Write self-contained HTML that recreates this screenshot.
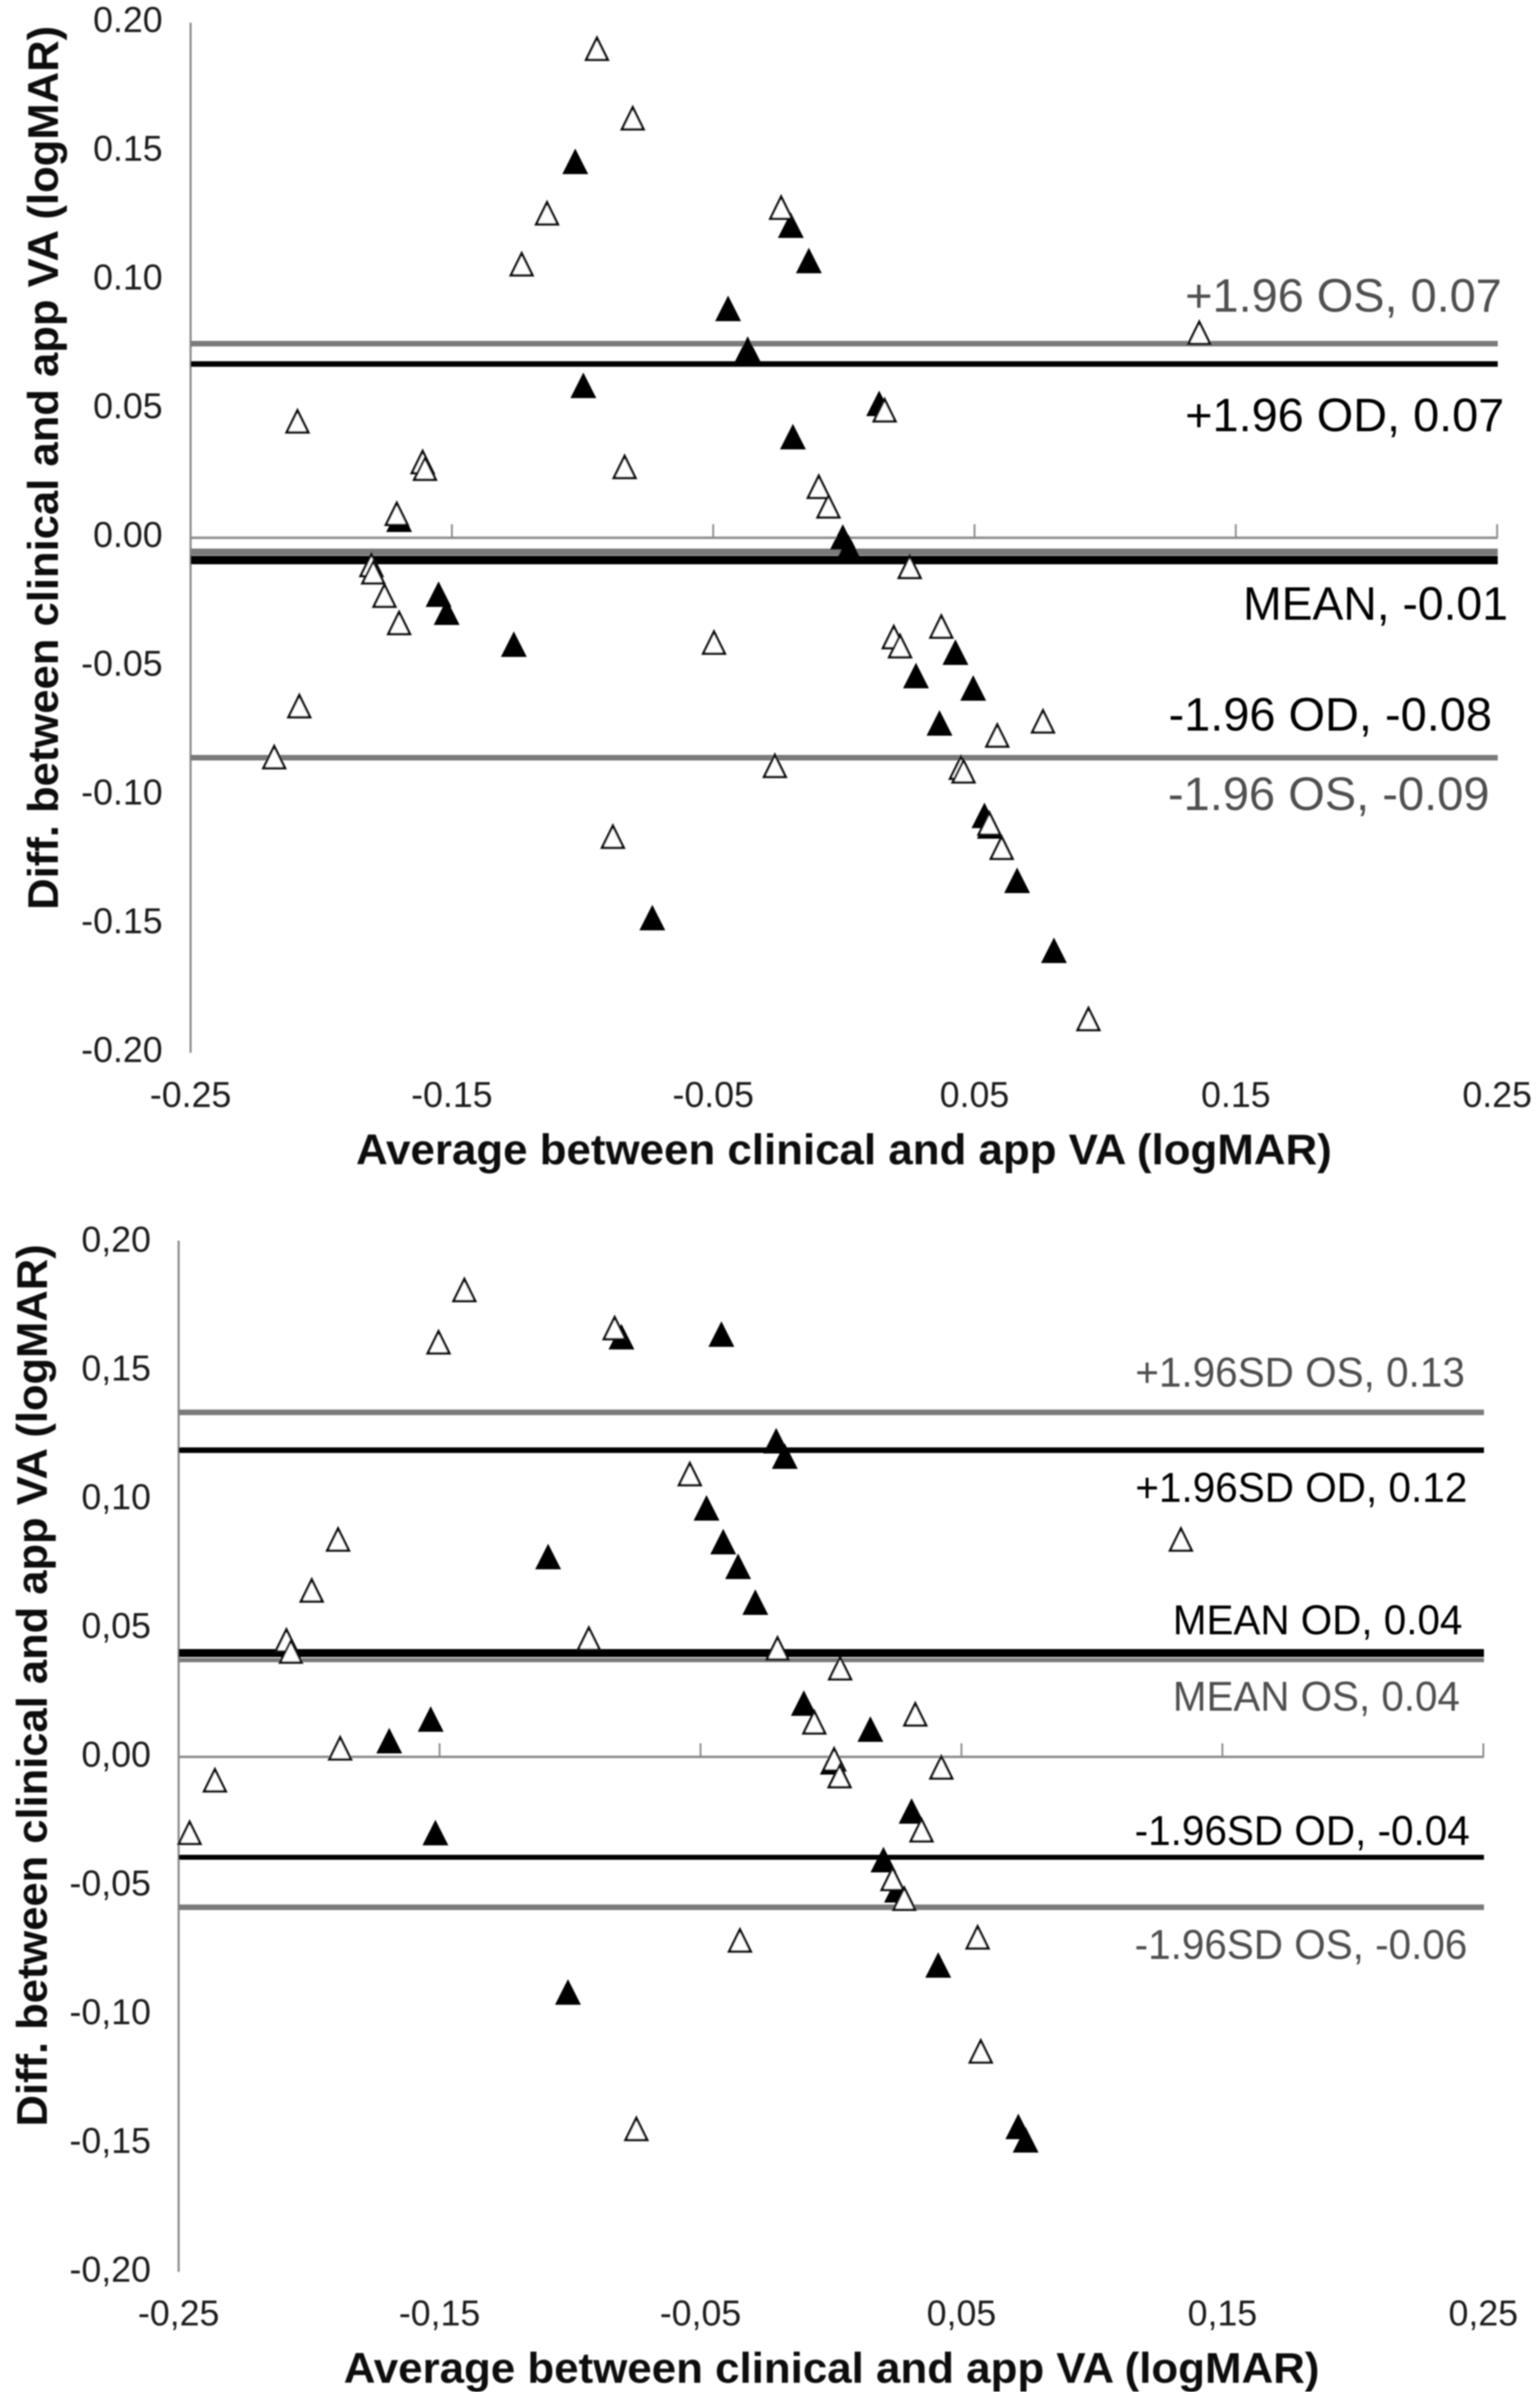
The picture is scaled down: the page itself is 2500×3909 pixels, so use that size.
<!DOCTYPE html>
<html lang="en">
<head>
<meta charset="utf-8">
<title>Bland-Altman plots</title>
<style>
html,body{margin:0;padding:0;background:#fff;}
svg{display:block;}
text{font-family:"Liberation Sans",sans-serif;}
.tick{font-size:58px;fill:#1f1f1f;}
.title{font-size:70px;font-weight:bold;fill:#0a0a0a;}
.note1{font-size:76px;}
.note2{font-size:68px;}
.od{fill:#000;}
.os{fill:#505050;}
</style>
</head>
<body>
<svg id="figure" xmlns="http://www.w3.org/2000/svg" width="2500" height="3909" viewBox="0 0 2500 3909">
<defs><filter id="soft" x="0" y="0" width="100%" height="100%"><feGaussianBlur stdDeviation="1"/></filter></defs>
<rect width="2500" height="3909" fill="#fff"/>
<g filter="url(#soft)">
<g id="chart1"></g>
<g id="chart2"></g>

<text class="title" x="578" y="1890" textLength="1584" lengthAdjust="spacingAndGlyphs">Average between clinical and app VA (logMAR)</text>
<text class="title" transform="translate(94,1477) rotate(-90)" textLength="1435" lengthAdjust="spacingAndGlyphs">Diff. between clinical and app VA (logMAR)</text>
<text class="title" x="558" y="3868" textLength="1584" lengthAdjust="spacingAndGlyphs">Average between clinical and app VA (logMAR)</text>
<text class="title" transform="translate(76,3452) rotate(-90)" textLength="1432" lengthAdjust="spacingAndGlyphs">Diff. between clinical and app VA (logMAR)</text>

<text class="note1 os" x="1924" y="506" textLength="514" lengthAdjust="spacingAndGlyphs">+1.96 OS, 0.07</text>
<text class="note1 od" x="1924" y="700" textLength="518" lengthAdjust="spacingAndGlyphs">+1.96 OD, 0.07</text>
<text class="note1 od" x="2018" y="1006" textLength="430" lengthAdjust="spacingAndGlyphs">MEAN, -0.01</text>
<text class="note1 od" x="1897" y="1186" textLength="525" lengthAdjust="spacingAndGlyphs">-1.96 OD, -0.08</text>
<text class="note1 os" x="1896" y="1315" textLength="522" lengthAdjust="spacingAndGlyphs">-1.96 OS, -0.09</text>

<text class="note2 os" x="1843" y="2251" textLength="535" lengthAdjust="spacingAndGlyphs">+1.96SD OS, 0.13</text>
<text class="note2 od" x="1843" y="2438" textLength="539" lengthAdjust="spacingAndGlyphs">+1.96SD OD, 0.12</text>
<text class="note2 od" x="1904" y="2653" textLength="470" lengthAdjust="spacingAndGlyphs">MEAN OD, 0.04</text>
<text class="note2 os" x="1904" y="2777" textLength="466" lengthAdjust="spacingAndGlyphs">MEAN OS, 0.04</text>
<text class="note2 od" x="1842" y="2995" textLength="544" lengthAdjust="spacingAndGlyphs">-1.96SD OD, -0.04</text>
<text class="note2 os" x="1842" y="3180" textLength="540" lengthAdjust="spacingAndGlyphs">-1.96SD OS, -0.06</text>
</g>
</svg>
<script>
// Shared axis values
const xTickValues = [-0.25, -0.15, -0.05, 0.05, 0.15, 0.25];
const yTickValues = [0.20, 0.15, 0.10, 0.05, 0.00, -0.05, -0.10, -0.15, -0.20];

// Top chart: reference lines
const top1LineValues = [0.0754, 0.0675, -0.0055, -0.0086, -0.0854];
const top1LineKinds = ["os", "od", "os", "od", "os"];
const top1LineWidths = [9, 9, 11, 14, 9];

// Top chart: OS points (open triangles)
const top1OsX = [-0.0945,-0.0808,-0.1136,-0.1233,-0.2091,-0.1612,-0.1603,-0.0839,-0.1711,-0.1808,-0.1801,-0.1758,-0.1702,-0.0240,0.1360,0.0156,-0.0096,-0.0059,0.0252,-0.0497,-0.2084,-0.2180,-0.0884,-0.0264,0.0191,0.0215,0.0373,0.0587,0.0762,0.0448,0.0458,0.0557,0.0604,0.0936];
const top1OsY = [0.1897,0.1627,0.1258,0.1060,0.0450,0.0292,0.0266,0.0273,0.0091,-0.0108,-0.0136,-0.0227,-0.0333,0.1280,0.0794,0.0493,0.0196,0.0120,-0.0115,-0.0409,-0.0656,-0.0854,-0.1163,-0.0888,-0.0388,-0.0423,-0.0347,-0.0770,-0.0715,-0.0895,-0.0909,-0.1112,-0.1206,-0.1871];

// Top chart: OD points (filled triangles)
const top1OdX = [-0.1028,-0.0443,-0.0368,-0.0997,-0.1702,-0.0203,-0.0134,0.0135,-0.0195,-0.0004,0.0019,-0.1551,-0.1520,-0.1263,0.0427,0.0276,0.0495,0.0366,0.0538,0.0559,0.0663,0.0804,-0.0733];
const top1OdY = [0.1459,0.0888,0.0730,0.0589,0.0069,0.1211,0.1074,0.0519,0.0390,0.0000,-0.0041,-0.0222,-0.0292,-0.0416,-0.0447,-0.0538,-0.0586,-0.0722,-0.1081,-0.1122,-0.1333,-0.1605,-0.1478];

// Bottom chart: reference lines
const bottomLineValues = [0.1338, 0.1191, 0.0376, 0.0403, -0.0390, -0.0584];
const bottomLineKinds = ["os", "od", "os", "od", "od", "os"];
const bottomLineWidths = [9, 9, 7, 13, 8, 9];

// Bottom chart: OS points (open triangles)
const bottomOsX = [-0.1405,-0.1504,-0.0829,-0.0541,-0.1889,-0.1990,-0.2087,-0.2070,-0.0928,-0.1881,-0.2361,0.1341,-0.0205,0.0035,-0.0064,0.0323,0.0012,0.0033,0.0423,-0.2458,-0.0349,-0.0746,0.0347,0.0236,0.0281,0.0562,0.0574];
const bottomOsY = [0.1811,0.1608,0.1663,0.1096,0.0842,0.0644,0.0450,0.0407,0.0457,0.0031,-0.0093,0.0842,0.0419,0.0342,0.0132,0.0163,-0.0012,-0.0077,-0.0043,-0.0297,-0.0715,-0.1447,-0.0287,-0.0476,-0.0553,-0.0703,-0.1146];

// Bottom chart: OD points (filled triangles)
const bottomOdX = [-0.0803,-0.0420,-0.0477,-0.0413,-0.0356,-0.0290,-0.1084,-0.1534,-0.1693,-0.0210,-0.0177,-0.0104,0.0151,0.0007,-0.1516,-0.1008,0.0309,0.0201,0.0253,0.0411,0.0718,0.0746];
const bottomOdY = [0.1629,0.1639,0.0964,0.0833,0.0737,0.0598,0.0775,0.0144,0.0060,0.1225,0.1165,0.0206,0.0105,-0.0022,-0.0297,-0.0916,-0.0213,-0.0402,-0.0519,-0.0811,-0.1438,-0.1490];

const NS = 'http://www.w3.org/2000/svg';

function make(parent, tag, attrs) {
  const el = document.createElementNS(NS, tag);
  for (const k in attrs) el.setAttribute(k, attrs[k]);
  parent.appendChild(el);
  return el;
}

function drawChart(cfg) {
  const g = document.getElementById(cfg.id);
  const xOf = v => cfg.xLeft + (v - xTickValues[0]) * cfg.xScale;
  const yOf = v => cfg.yZero - v * cfg.yScale;
  const xRight = xOf(xTickValues[xTickValues.length - 1]);
  const fmt = v => v.toFixed(2).replace('.', cfg.sep);

  // y axis
  const yAxis = make(g, 'line', {x1: xOf(-0.25), x2: xOf(-0.25), y1: yOf(0.2) + cfg.axisTopOffset, y2: yOf(-0.2), stroke: '#8c8c8c', 'stroke-width': 3.5});
  
  

  // x axis at zero
  const xAxis = make(g, 'line', {x1: xOf(-0.25), x2: xRight + 1, y1: yOf(0), y2: yOf(0), stroke: '#8c8c8c', 'stroke-width': 4});
  
  

  xTickValues.forEach(v => {
    if (v !== xTickValues[0]) {
      const t = make(g, 'line', {x1: xOf(v), x2: xOf(v), y1: yOf(0), y2: yOf(0) - 22, stroke: '#8c8c8c', 'stroke-width': 3});
      
      
    }
    const lab = make(g, 'text', {class: 'tick', x: xOf(v), y: cfg.xLabelBase, 'text-anchor': 'middle'});
    
    
    lab.textContent = fmt(v);
  });

  yTickValues.forEach(v => {
    const lab = make(g, 'text', {class: 'tick', x: cfg.yLabelRight, y: yOf(v) + cfg.yLabelShift, 'text-anchor': 'end'});
    
    
    lab.textContent = fmt(v);
  });

  // reference lines
  cfg.lineValues.forEach((v, i) => {
    const l = make(g, 'line', {x1: xOf(-0.25), x2: xRight + 1, y1: yOf(v), y2: yOf(v), stroke: cfg.lineKinds[i] === 'os' ? '#7a7a7a' : '#000', 'stroke-width': cfg.lineWidths[i]});
    
    
  });

  // filled triangles (OD)
  cfg.odX.forEach((xv, i) => {
    const cx = xOf(xv), cy = yOf(cfg.odY[i]) - 1;
    const p = make(g, 'polygon', {points: `${cx - 21},${cy + 20.5} ${cx + 21},${cy + 20.5} ${cx},${cy - 21}`, fill: '#000'});
    
    
  });

  // open triangles (OS)
  cfg.osX.forEach((xv, i) => {
    const cx = xOf(xv), cy = yOf(cfg.osY[i]) - 1.5;
    const p = make(g, 'polygon', {points: `${cx - 17.5},${cy + 18.5} ${cx + 17.5},${cy + 18.5} ${cx},${cy - 17}`, fill: '#fff', stroke: '#111', 'stroke-width': 4});
    
    
  });
}

drawChart({id: 'chart1', xLeft: 309.4, xScale: 4242, yZero: 873, yScale: 4180, sep: '.', axisTopOffset: 0,
  xLabelBase: 1797, yLabelRight: 264, yLabelShift: 15,
  lineValues: top1LineValues, lineKinds: top1LineKinds, lineWidths: top1LineWidths,
  osX: top1OsX, osY: top1OsY, odX: top1OdX, odY: top1OdY});

drawChart({id: 'chart2', xLeft: 290, xScale: 4236, yZero: 2852, yScale: 4180, sep: ',', axisTopOffset: -2,
  xLabelBase: 3775, yLabelRight: 245, yLabelShift: 16,
  lineValues: bottomLineValues, lineKinds: bottomLineKinds, lineWidths: bottomLineWidths,
  osX: bottomOsX, osY: bottomOsY, odX: bottomOdX, odY: bottomOdY});
</script>
</body>
</html>
